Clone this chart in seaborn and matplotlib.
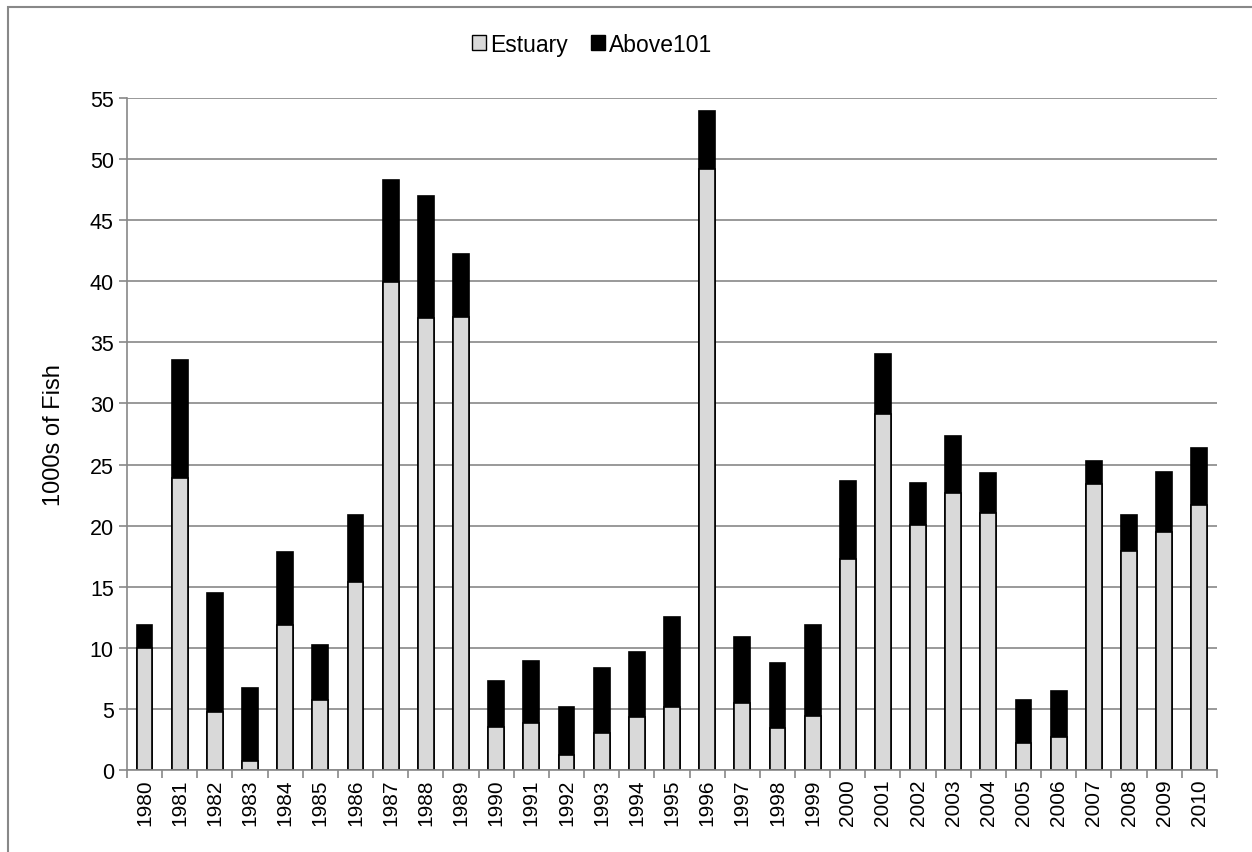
import seaborn as sns
import matplotlib.pyplot as plt
import pandas as pd
from matplotlib.patches import Rectangle, Patch

years = [str(y) for y in range(1980, 2011)]
estuary = [10.0, 23.9, 4.75, 0.72, 11.9, 5.76, 15.4, 39.96, 36.98, 37.09,
           3.56, 3.81, 1.19, 2.99, 4.35, 5.14, 49.17, 5.5, 3.42, 4.39,
           17.23, 29.14, 20.07, 22.66, 21.0, 2.23, 2.7, 23.38, 17.95, 19.46, 21.65]
total = [11.9, 33.56, 14.5, 6.7, 17.84, 10.25, 20.9, 48.3, 46.94, 42.23,
         7.27, 8.96, 5.18, 8.31, 9.68, 12.52, 53.96, 10.9, 8.74, 11.87,
         23.67, 34.06, 23.49, 27.34, 24.32, 5.72, 6.44, 25.32, 20.9, 24.39, 26.37]
above101 = [t - e for t, e in zip(total, estuary)]

df = pd.DataFrame({"year": years, "Estuary": estuary, "Above101": above101})
df["total"] = df["Estuary"] + df["Above101"]

sns.set_theme(style="white")
plt.rcParams['font.family'] = ['Liberation Sans', 'DejaVu Sans']
plt.rcParams['text.color'] = 'black'
plt.rcParams['xtick.color'] = 'black'
plt.rcParams['ytick.color'] = 'black'
plt.rcParams['axes.labelcolor'] = 'black'

fig = plt.figure(figsize=(12.52, 8.53), dpi=100)
ax = fig.add_axes([0.1014, 0.0961, 0.8706, 0.7879])

# total height in black, estuary drawn over it in light gray
sns.barplot(data=df, x="year", y="total", color="black", width=0.45,
            edgecolor="black", linewidth=1.2, saturation=1, ax=ax)
sns.barplot(data=df, x="year", y="Estuary", color="#d9d9d9", width=0.45,
            edgecolor="black", linewidth=1.2, saturation=1, ax=ax)

ax.set_ylim(0, 55)
ax.set_xlim(-0.5, len(years) - 0.5)
ax.set_yticks(range(0, 56, 5))
ax.yaxis.grid(True, color="#888888", linewidth=1.2)
ax.set_axisbelow(True)
for s in ["top", "right"]:
    ax.spines[s].set_visible(False)
for s in ["left", "bottom"]:
    ax.spines[s].set_color("#888888")
    ax.spines[s].set_linewidth(1.2)

ax.set_xlabel("")
ax.set_ylabel("1000s of Fish", fontsize=17, labelpad=18)
ax.tick_params(axis="x", labelrotation=90, labelsize=15, length=0, pad=6)
ax.tick_params(axis="y", labelsize=15.5, left=True, length=6, tickdir="out",
               color="#888888", width=1.2)
for t in ax.get_yticklabels():
    t.set_color("black")
ax.set_xticks([i - 0.5 for i in range(len(years) + 1)], minor=True)
ax.tick_params(axis="x", which="minor", bottom=True, length=6, color="#888888", width=1.2)

handles = [Patch(facecolor="#d9d9d9", edgecolor="black", label="Estuary"),
           Patch(facecolor="black", edgecolor="black", label="Above101")]
fig.legend(handles=handles, loc="center", bbox_to_anchor=(0.473, 0.947), ncol=2,
           frameon=False, fontsize=16.5, handlelength=0.6, handleheight=0.6,
           handletextpad=0.2, columnspacing=1.0)

fig.patches.append(Rectangle((0.0065, -0.01), 1.1, 1.0005, transform=fig.transFigure,
                             fill=False, edgecolor="#888888", linewidth=1.5))

fig.savefig("out.png", dpi=100)
